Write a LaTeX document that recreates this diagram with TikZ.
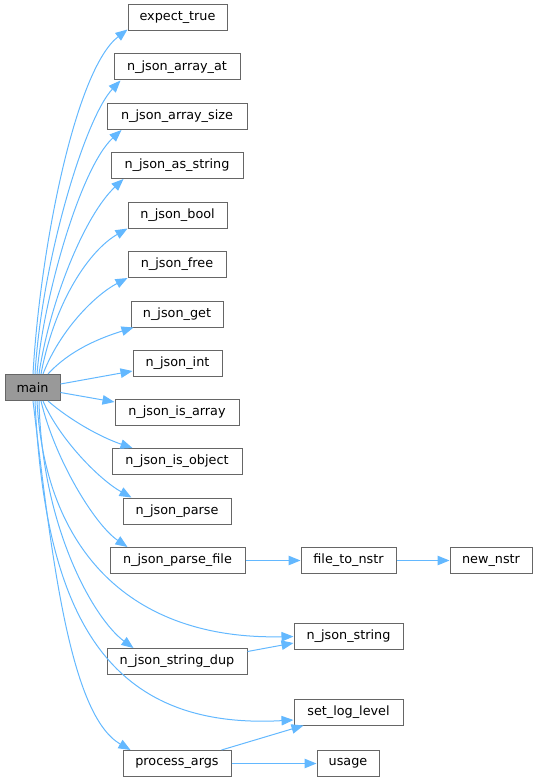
\documentclass[tikz,border=0pt]{standalone}
\usepackage{fontspec}
\setmainfont{DejaVu Sans}
\usetikzlibrary{arrows.meta}
\definecolor{edgec}{HTML}{63B8FF}
\definecolor{boxc}{HTML}{666666}
\definecolor{mainc}{HTML}{999999}
\begin{document}
\begin{tikzpicture}[x=1pt,y=-1pt,
  fn/.style={draw=boxc, line width=1pt, fill=white, minimum height=26pt, inner sep=0pt,
    font=\fontsize{12.8}{14}\selectfont, text=black},
  call/.style={draw=edgec, line width=1pt, -{Triangle[length=12pt,width=9.5pt]}}]
\useasboundingbox (0,0) rectangle (537,781);
% nodes
\node[fn, minimum width=55pt, fill=mainc] (main) at (32.5,387.5) {main};
\node[fn, minimum width=99pt] (expect_true) at (177.5,18) {expect\_true};
\node[fn, minimum width=126pt] (array_at) at (177,67) {n\_json\_array\_at};
\node[fn, minimum width=140pt] (array_size) at (177,116.5) {n\_json\_array\_size};
\node[fn, minimum width=132pt] (as_string) at (177,165.5) {n\_json\_as\_string};
\node[fn, minimum width=99pt] (bool) at (177.5,215) {n\_json\_bool};
\node[fn, minimum width=98pt] (free) at (177,264.5) {n\_json\_free};
\node[fn, minimum width=92pt] (get) at (177,314) {n\_json\_get};
\node[fn, minimum width=89pt] (int) at (177.5,363.5) {n\_json\_int};
\node[fn, minimum width=124pt] (is_array) at (177,412.5) {n\_json\_is\_array};
\node[fn, minimum width=130pt] (is_object) at (177,461.5) {n\_json\_is\_object};
\node[fn, minimum width=108pt] (parse) at (177,511) {n\_json\_parse};
\node[fn, minimum width=135pt] (parse_file) at (177.5,560.5) {n\_json\_parse\_file};
\node[fn, minimum width=95pt] (file_to_nstr) at (348.5,560.5) {file\_to\_nstr};
\node[fn, minimum width=82pt] (new_nstr) at (491,560.5) {new\_nstr};
\node[fn, minimum width=109pt] (n_json_string) at (348.5,636.5) {n\_json\_string};
\node[fn, minimum width=140pt] (string_dup) at (177,661.5) {n\_json\_string\_dup};
\node[fn, minimum width=109pt] (set_log_level) at (348.5,712) {set\_log\_level};
\node[fn, minimum width=108pt] (process_args) at (177,763.5) {process\_args};
\node[fn, minimum width=62pt] (usage) at (348,763.5) {usage};
% upward fan
\draw[call] ([xshift=0.5pt]main.north) .. controls (40,250) and (75,70) .. ([yshift=2pt]expect_true.south west);
\draw[call] ([xshift=2.5pt]main.north) .. controls (42,260) and (85,118) .. ([xshift=7pt]array_at.south west);
\draw[call] ([xshift=4.5pt]main.north) .. controls (43,300) and (80,168) .. ([xshift=15pt]array_size.south west);
\draw[call] ([xshift=6.5pt]main.north) .. controls (50,300) and (85,215) .. ([xshift=13pt]as_string.south west);
\draw[call] ([xshift=8.5pt]main.north) .. controls (55,300) and (90,250) .. (bool.south west);
\draw[call] ([xshift=10.5pt]main.north) .. controls (60,330) and (95,295) .. (free.south west);
\draw[call] ([xshift=15.5pt]main.north) .. controls (70,350) and (100,338) .. ([xshift=3pt]get.south west);
\draw[call] ([yshift=3.5pt]main.east) -- ([yshift=-7.5pt]int.west);
\draw[call] ([yshift=-5pt]main.east) -- ([yshift=-3pt]is_array.north west);
% downward fan
\draw[call] ([xshift=15.5pt]main.south) .. controls (70,420) and (100,437) .. ([xshift=21pt]is_object.north west);
\draw[call] ([xshift=10.5pt]main.south) .. controls (60,440) and (100,480) .. ([xshift=9pt]parse.north west);
\draw[call] ([xshift=8.5pt]main.south) .. controls (55,460) and (95,525) .. ([xshift=18pt]parse_file.north west);
\draw[call] ([xshift=6.5pt]main.south) .. controls (42,530) and (95,620) .. ([xshift=27pt]string_dup.north west);
\draw[call] ([xshift=4.5pt]main.south) .. controls (45,550) and (130,640) .. (n_json_string.west);
\draw[call] ([xshift=2.5pt]main.south) .. controls (45,620) and (110,730) .. ([yshift=-8pt]set_log_level.west);
\draw[call] ([xshift=0.5pt]main.south) .. controls (52,560) and (70,715) .. ([xshift=8pt]process_args.north west);
% others
\draw[call] (parse_file) -- (file_to_nstr);
\draw[call] (file_to_nstr) -- (new_nstr);
\draw[call] ([yshift=10pt]string_dup.east) -- ([yshift=-6.5pt]n_json_string.west);
\draw[call] ([xshift=-10pt]process_args.north east) -- ([xshift=10pt]set_log_level.south west);
\draw[call] (process_args) -- (usage);
\end{tikzpicture}
\end{document}
